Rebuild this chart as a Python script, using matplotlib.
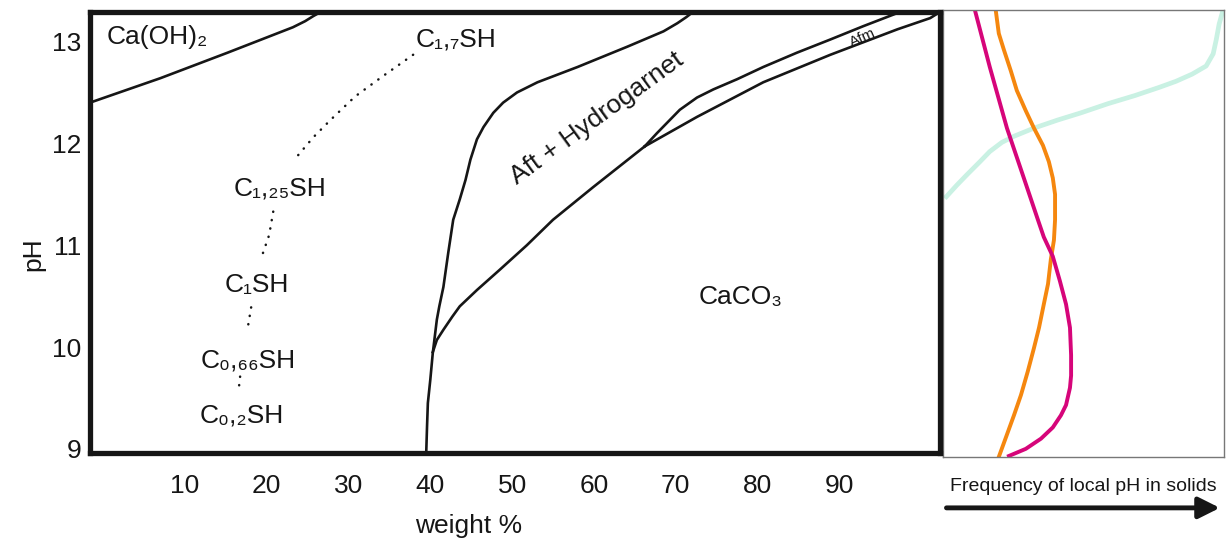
import matplotlib
matplotlib.use('Agg')
import matplotlib.pyplot as plt

plt.rcParams['font.family'] = ['Liberation Sans', 'DejaVu Sans']

# phase boundaries, weight % vs pH
caoh_x = [-1.6, 7.0, 15.2, 23.2, 24.7, 25.7, 26.6]
caoh_y = [12.40, 12.64, 12.89, 13.14, 13.20, 13.25, 13.29]

aft_left_x = [39.5, 39.6, 39.7, 40.0, 40.3, 40.8, 41.1, 41.6, 42.2, 42.8, 43.6, 44.3, 44.9,
              45.7, 46.5, 47.7, 48.9, 50.6, 53.1, 58.0, 64.1, 68.5, 70.2, 71.3, 72.1]
aft_left_y = [8.96, 9.22, 9.45, 9.68, 9.94, 10.27, 10.40, 10.59, 10.93, 11.25, 11.45, 11.64, 11.84,
              12.04, 12.16, 12.30, 12.40, 12.50, 12.60, 12.75, 12.95, 13.10, 13.18, 13.24, 13.29]

aft_low_x = [40.3, 40.8, 41.6, 42.7, 43.6, 45.7, 48.5, 51.8, 55.0, 59.9, 66.2]
aft_low_y = [9.95, 10.07, 10.17, 10.30, 10.40, 10.56, 10.76, 11.00, 11.25, 11.57, 11.97]

afm_up_x = [66.2, 67.7, 70.5, 72.6, 74.6, 77.5, 80.7, 84.8, 88.9, 92.9, 97.1]
afm_up_y = [11.97, 12.10, 12.33, 12.45, 12.53, 12.63, 12.75, 12.89, 13.02, 13.15, 13.28]

afm_low_x = [66.2, 72.6, 80.7, 88.9, 97.1, 101.1, 102.3]
afm_low_y = [11.97, 12.26, 12.60, 12.87, 13.12, 13.23, 13.29]

# C-S-H dotted trend, pieces between the labels
csh_segs = [
    ([37.9, 34.2, 30.8, 27.8, 25.7, 23.8], [12.87, 12.66, 12.46, 12.23, 12.06, 11.88]),
    ([20.8, 20.3, 19.4], [11.33, 11.10, 10.89]),
    ([18.1, 17.6], [10.39, 10.15]),
    ([16.75, 16.6], [9.71, 9.60]),
]

phase_labels = ['Ca(OH)₂', 'C₁,₇SH', 'C₁,₂₅SH', 'C₁SH', 'C₀,₆₆SH', 'C₀,₂SH', 'CaCO₃']
phase_x = [6.6, 43.2, 21.6, 18.8, 17.7, 16.9, 77.9]
phase_y = [13.04, 13.02, 11.56, 10.61, 9.87, 9.33, 10.49]

# frequency of local pH (right panel), fraction of panel width
mag_f = [0.114, 0.167, 0.228, 0.288, 0.338, 0.359, 0.391, 0.416, 0.438, 0.452, 0.456, 0.456,
         0.452, 0.438, 0.420, 0.391, 0.349, 0.295, 0.235]
mag_ph = [13.31, 12.75, 12.15, 11.66, 11.25, 11.08, 10.89, 10.65, 10.42, 10.19, 9.92, 9.72,
          9.60, 9.43, 9.33, 9.21, 9.10, 9.00, 8.93]

org_f = [0.189, 0.199, 0.217, 0.242, 0.263, 0.295, 0.324, 0.356, 0.377, 0.391, 0.399, 0.399,
         0.395, 0.384, 0.374, 0.359, 0.342, 0.324, 0.302, 0.278, 0.253, 0.228, 0.199]
org_ph = [13.29, 13.08, 12.92, 12.71, 12.52, 12.32, 12.15, 11.98, 11.82, 11.66, 11.50, 11.25,
          11.05, 10.86, 10.62, 10.42, 10.19, 9.99, 9.76, 9.53, 9.33, 9.14, 8.92]

mint_f = [0.007, 0.050, 0.085, 0.132, 0.167, 0.210, 0.253, 0.324, 0.409, 0.491, 0.587, 0.683,
          0.769, 0.829, 0.886, 0.936, 0.961, 0.972, 0.982, 0.996]
mint_ph = [11.46, 11.59, 11.69, 11.82, 11.92, 12.01, 12.07, 12.15, 12.23, 12.30, 12.39, 12.47,
           12.55, 12.61, 12.68, 12.76, 12.88, 13.02, 13.17, 13.31]

xticks = [10, 20, 30, 40, 50, 60, 70, 80, 90]
yticks = [9, 10, 11, 12, 13]

fig = plt.figure(figsize=(12.26, 5.38), dpi=100)
ink = '#161616'
fs = 19

ax2 = fig.add_axes([0.769, 0.1506, 0.2295, 0.8308])
ax2.plot(mint_f, mint_ph, color='#c9f1e3', lw=3.4, solid_capstyle='butt')
ax2.plot(org_f, org_ph, color='#f5870f', lw=2.8)
ax2.plot(mag_f, mag_ph, color='#d6057a', lw=2.8)
ax2.set_xlim(0, 1)
ax2.set_ylim(8.92, 13.31)
ax2.set_xticks([])
ax2.set_yticks([])
for s in ax2.spines.values():
    s.set_color('#777777')
    s.set_linewidth(1)
ax2.text(0.5, -0.066, 'Frequency of local pH in solids', transform=ax2.transAxes,
         ha='center', va='center', fontsize=14, color=ink)
ax2.annotate('', xy=(0.995, 0.056), xytext=(0.772, 0.056), xycoords='figure fraction',
             arrowprops=dict(arrowstyle='-|>', lw=3.5, color=ink, mutation_scale=32,
                             shrinkA=0, shrinkB=0))

ax = fig.add_axes([0.0734, 0.158, 0.6933, 0.8197])
ax.patch.set_alpha(0)
for px, py in [(caoh_x, caoh_y), (aft_left_x, aft_left_y), (aft_low_x, aft_low_y),
               (afm_up_x, afm_up_y), (afm_low_x, afm_low_y)]:
    ax.plot(px, py, color=ink, lw=1.9, solid_joinstyle='round')
for sx, sy in csh_segs:
    ax.plot(sx, sy, color=ink, lw=1.8, linestyle=(0, (0.1, 3.3)), dash_capstyle='round')

for lab, x, y in zip(phase_labels, phase_x, phase_y):
    ax.text(x, y, lab, ha='center', va='center', fontsize=fs, color=ink)
ax.text(60.4, 12.25, 'Aft + Hydrogarnet', ha='center', va='center', fontsize=fs,
        rotation=36, color=ink)
ax.text(92.9, 13.04, 'Afm', ha='center', va='center', fontsize=11, rotation=24, color=ink)

ax.set_xlim(-1.6, 102.3)
ax.set_ylim(8.96, 13.29)
ax.set_xticks(xticks)
ax.set_yticks(yticks)
ax.tick_params(length=0, labelsize=fs, colors=ink)
ax.tick_params(axis='x', pad=15)
ax.tick_params(axis='y', pad=6)
for s in ax.spines.values():
    s.set_linewidth(3.8)
    s.set_color(ink)
ax.set_xlabel('weight %', fontsize=fs, color=ink)
ax.xaxis.set_label_coords(0.445, -0.138)
ax.set_ylabel('pH', fontsize=fs, color=ink)
ax.yaxis.set_label_coords(-0.052, 0.45)

fig.savefig('out.png', dpi=100)
